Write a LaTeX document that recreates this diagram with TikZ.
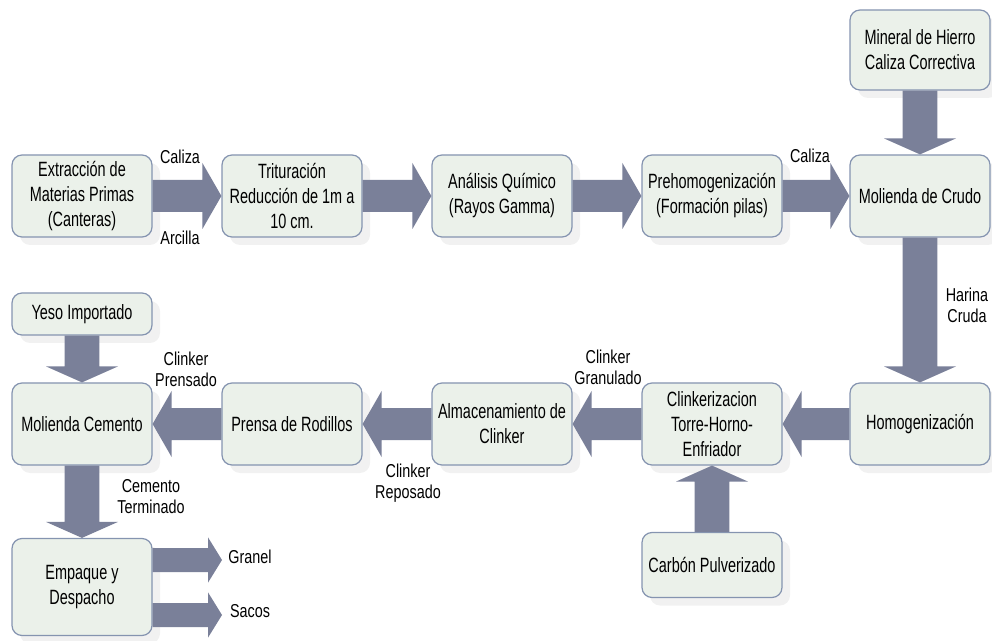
\documentclass[tikz,border=0pt]{standalone}
\usepackage{fontspec}
\setmainfont{Liberation Sans}[FakeStretch=0.77]
\newfontfamily\boxfont{Liberation Sans}[FakeStretch=0.7]
\usetikzlibrary{calc,shadows}
\definecolor{boxfill}{HTML}{EBF1EA}
\definecolor{boxline}{HTML}{8594B0}
\definecolor{arrowfill}{HTML}{7A8099}
\newcommand\harrow[5]{%
  \fill[arw] let \p1=#1, \p2=#2, \n1={ifthenelse(\x2>\x1,1,-1)} in
   ({\x1},{\y1+#3}) -- ({\x2-(\n1)*#5},{\y1+#3}) -- ({\x2-(\n1)*#5},{\y1+#4}) -- ({\x2},{\y1})
   -- ({\x2-(\n1)*#5},{\y1-#4}) -- ({\x2-(\n1)*#5},{\y1-#3}) -- ({\x1},{\y1-#3}) -- cycle;}
\newcommand\varrow[5]{%
  \fill[arw] let \p1=#1, \p2=#2, \n1={ifthenelse(\y2>\y1,1,-1)} in
   ({\x1+#3},{\y1}) -- ({\x1+#3},{\y2-(\n1)*#5}) -- ({\x1+#4},{\y2-(\n1)*#5}) -- ({\x1},{\y2})
   -- ({\x1-#4},{\y2-(\n1)*#5}) -- ({\x1-#3},{\y2-(\n1)*#5}) -- ({\x1-#3},{\y1}) -- cycle;}
\begin{document}
\begin{tikzpicture}[x=0.75pt,y=-0.75pt,
  box/.style={draw=boxline, line width=0.9pt, fill=boxfill, rounded corners=7.5pt,
    align=center, inner sep=2pt, minimum width=105pt,
    font=\boxfont\fontsize{15.5}{18.75}\selectfont,
    drop shadow={shadow xshift=6pt, shadow yshift=-6pt, fill=black!11, draw=none}},
  lbl/.style={align=center, inner sep=0pt, font=\fontsize{14}{15.75}\selectfont},
  arw/.style={fill=arrowfill, draw=none}]
\useasboundingbox (0,0) rectangle (992,641);
% boxes
\node[box, minimum height=61.5pt] (ext) at (82,196) {Extracción de\\Materias Primas\\(Canteras)};
\node[box, minimum height=61.5pt] (tri) at (292,196) {Trituración\\Reducción de 1m a\\10 cm.};
\node[box, minimum height=61.5pt] (ana) at (502,196) {Análisis Químico\\(Rayos Gamma)};
\node[box, minimum height=61.5pt] (pre) at (712,196) {Prehomogenización\\(Formación pilas)};
\node[box, minimum height=61.5pt] (mcr) at (920,196) {Molienda de Crudo};
\node[box, minimum height=60pt] (min) at (920,50) {Mineral de Hierro\\Caliza Correctiva};
\node[box, minimum height=61.5pt] (hom) at (920,424) {Homogenización};
\node[box, minimum height=61.5pt] (cli) at (712,424) {Clinkerizacion\\Torre-Horno-\\Enfriador};
\node[box, minimum height=61.5pt] (alm) at (502,424) {Almacenamiento de\\Clinker};
\node[box, minimum height=61.5pt] (pren) at (292,424) {Prensa de Rodillos};
\node[box, minimum height=61.5pt] (mce) at (82,424) {Molienda Cemento};
\node[box, minimum height=31.5pt] (yeso) at (82,314) {Yeso Importado};
\node[box, minimum height=48.75pt] (carb) at (712,565) {Carbón Pulverizado};
\node[box, minimum height=72.75pt] (emp) at (82,587) {Empaque y\\Despacho};
\coordinate (gra) at (222,560);
\coordinate (sac) at (222,615);
% arrows
\harrow{(ext.east)}{(tri.west)}{12pt}{24.75pt}{14.25pt}
\harrow{(tri.east)}{(ana.west)}{12pt}{24.75pt}{14.25pt}
\harrow{(ana.east)}{(pre.west)}{12pt}{24.75pt}{14.25pt}
\harrow{(pre.east)}{(mcr.west)}{12pt}{24.75pt}{14.25pt}
\varrow{(min.south)}{(mcr.north)}{13pt}{27pt}{12pt}
\varrow{(mcr.south)}{(hom.north)}{13pt}{27pt}{12pt}
\harrow{(hom.west)}{(cli.east)}{12pt}{24.75pt}{14.25pt}
\harrow{(cli.west)}{(alm.east)}{12pt}{24.75pt}{14.25pt}
\harrow{(alm.west)}{(pren.east)}{12pt}{24.75pt}{14.25pt}
\harrow{(pren.west)}{(mce.east)}{12pt}{24.75pt}{14.25pt}
\varrow{(carb.north)}{(cli.south)}{13pt}{27pt}{12pt}
\varrow{(yeso.south)}{(mce.north)}{13pt}{27pt}{12pt}
\varrow{(mce.south)}{(emp.north)}{13pt}{27pt}{12pt}
\harrow{(emp.east |- gra)}{(gra)}{9pt}{17pt}{10.5pt}
\harrow{(emp.east |- sac)}{(sac)}{9pt}{17pt}{10.5pt}
% labels
\node[lbl] (l1) at (180,157) {Caliza};
\node[lbl] (l2) at (180,238) {Arcilla};
\node[lbl] (l3) at (810,156) {Caliza};
\node[lbl] (l4) at (967,305) {Harina\\Cruda};
\node[lbl] (l5) at (608,367) {Clinker\\Granulado};
\node[lbl] (l6) at (186,369) {Clinker\\Prensado};
\node[lbl] (l7) at (408,483) {Clinker\\Reposado};
\node[lbl] (l8) at (151,497) {Cemento\\Terminado};
\node[lbl] (l9) at (250,557) {Granel};
\node[lbl] (l10) at (250,611) {Sacos};
\end{tikzpicture}
\end{document}
